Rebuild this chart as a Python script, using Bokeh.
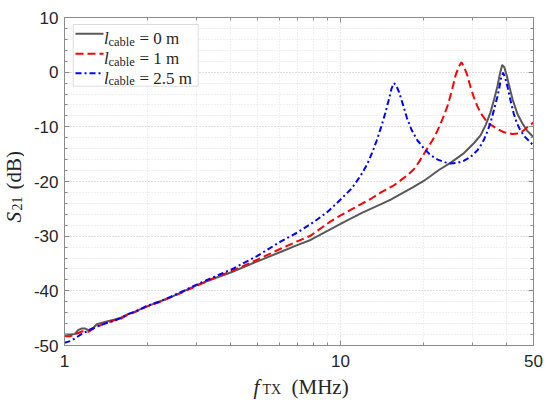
from math import pi
from bokeh.plotting import figure
from bokeh.layouts import row, column
from bokeh.models import (FixedTicker, LinearAxis, LogAxis, Range1d, Label,
                          BoxAnnotation, Arrow, CustomJSTickFormatter)
from bokeh.embed import file_html
from bokeh.resources import INLINE

# ---------------- data ----------------
x_ticks = [1, 10, 50]
x_minor = [2, 3, 4, 5, 6, 7, 8, 9, 20, 30, 40]
y_ticks = [-50, -40, -30, -20, -10, 0, 10]
y_minor = list(range(-50, 11, 2))

f_0m = [1.00, 1.05, 1.09, 1.12, 1.15, 1.19, 1.22, 1.27, 1.31, 1.40, 1.51, 1.60, 1.69, 1.80,
        2.00, 2.20, 2.42, 2.70, 3.00, 3.50, 4.02, 5.00, 6.06, 7.00, 7.79, 9.00, 10.57, 12.0,
        13.96, 15.2, 16.5, 18.4, 20.0, 21.2, 22.7, 25.0, 28.0, 30.4, 32.2, 33.6, 34.9, 36.0,
        37.0, 37.8, 38.5, 39.2, 40.0, 40.7, 42.0, 43.7, 45.5, 47.4, 50.0]
s21_0m = [-48.0, -48.0, -47.9, -47.2, -46.9, -46.9, -47.2, -46.8, -46.1, -45.7, -45.3, -44.9,
          -44.3, -43.8, -42.8, -42.0, -41.2, -40.1, -39.0, -37.7, -36.6, -34.6, -32.9, -31.6,
          -30.7, -29.0, -27.1, -25.7, -24.2, -23.3, -22.3, -21.0, -19.9, -19.0, -17.9, -16.6,
          -14.8, -13.0, -11.5, -9.6, -7.4, -5.0, -2.6, -0.3, 1.3, 0.9, -0.6, -2.2, -5.0, -7.6,
          -9.3, -10.7, -11.9]

f_1m = [1.00, 1.05, 1.10, 1.16, 1.22, 1.30, 1.40, 1.51, 1.60, 1.69, 1.80, 2.00, 2.20, 2.42,
        2.70, 3.00, 3.50, 4.02, 5.00, 6.06, 7.00, 7.79, 9.20, 10.0, 10.87, 12.0, 12.85, 14.0,
        15.6, 16.5, 17.4, 18.4, 19.2, 20.3, 21.5, 22.4, 23.4, 24.4, 25.3, 26.1, 26.8, 27.4,
        28.0, 28.8, 29.6, 30.4, 31.3, 32.2, 34.0, 37.0, 39.1, 41.9, 44.0, 46.0, 47.4, 50.0]
s21_1m = [-48.3, -48.3, -47.9, -47.4, -47.5, -46.6, -46.0, -45.4, -45.1, -44.4, -43.9, -42.8,
          -42.1, -41.2, -40.2, -39.1, -37.6, -36.4, -34.3, -32.3, -30.9, -29.9, -27.3, -26.2,
          -25.2, -24.0, -23.2, -22.0, -20.7, -19.8, -18.9, -17.8, -16.5, -14.5, -12.5, -10.8,
          -8.6, -6.2, -3.4, -0.6, 1.0, 1.8, 1.0, -0.6, -2.8, -4.6, -6.2, -7.5, -9.2, -10.4,
          -11.0, -11.3, -11.2, -10.7, -10.1, -9.2]

f_25m = [1.00, 1.05, 1.10, 1.16, 1.22, 1.30, 1.40, 1.51, 1.60, 1.69, 1.80, 2.00, 2.20, 2.42,
         2.70, 3.00, 3.50, 4.02, 5.00, 6.06, 7.00, 8.00, 9.00, 10.0, 11.0, 11.8, 12.5, 13.0,
         13.5, 14.0, 14.5, 15.0, 15.3, 15.6, 15.9, 16.3, 16.8, 17.4, 18.1, 19.0, 20.0, 21.2,
         22.5, 24.0, 25.0, 26.5, 28.0, 29.6, 31.3, 32.2, 33.1, 34.0, 34.9, 36.0, 37.0, 37.6,
         38.2, 38.8, 39.4, 40.1, 41.2, 42.4, 43.6, 44.9, 46.5, 48.2, 50.0]
s21_25m = [-49.5, -49.2, -48.6, -47.8, -47.3, -46.6, -46.0, -45.5, -45.0, -44.3, -43.8, -42.7,
           -42.0, -41.1, -40.0, -38.9, -37.4, -36.1, -33.6, -31.0, -29.3, -27.4, -25.5, -23.3,
           -21.2, -19.0, -16.8, -14.8, -12.6, -10.2, -7.6, -4.8, -3.0, -2.0, -2.4, -3.7, -5.8,
           -8.4, -10.6, -12.5, -13.9, -15.2, -16.0, -16.5, -16.7, -16.6, -16.2, -15.5, -14.3,
           -13.4, -12.3, -10.9, -9.3, -6.8, -4.5, -2.8, -1.0, -0.1, -0.9, -2.3, -5.0, -7.6,
           -9.4, -10.7, -11.8, -12.6, -13.4]

legend_values = ["= 0 m", "= 1 m", "= 2.5 m"]
colors = ["#595959", "#ff0000", "#0000ff"]
dashes = ["solid", "8 4", "6 3 2 3"]

# ---------------- layout constants ----------------
AX = "#8c8c8c"
TXT = "#262626"
SERIF = "Liberation Serif"
SANS = "Liberation Sans"
WY = 24          # width of the strip holding the y title
HP = 375         # height of the main plot
W_TOTAL, H_TOTAL = 548, 404
FRAME_L = 64     # page x of the plot frame's left edge

# ---------------- main figure ----------------
p = figure(width=W_TOTAL - WY, height=HP, x_axis_type="log",
           x_range=Range1d(1, 50), y_range=Range1d(-50, 10),
           output_backend="svg", toolbar_location=None,
           min_border_left=FRAME_L - WY, min_border_right=W_TOTAL - 533,
           min_border_top=17, min_border_bottom=HP - 345)
p.outline_line_color = AX
p.background_fill_color = "white"
p.border_fill_color = "white"

xt = FixedTicker(ticks=x_ticks, minor_ticks=x_minor)
yt = FixedTicker(ticks=y_ticks, minor_ticks=y_minor)


def style_axis(ax):
    ax.axis_line_color = AX
    ax.major_tick_line_color = AX
    ax.minor_tick_line_color = AX
    ax.major_tick_in = 5
    ax.major_tick_out = 0
    ax.minor_tick_in = 3
    ax.minor_tick_out = 0
    ax.major_label_text_font = SANS
    ax.major_label_text_font_size = "17px"
    ax.major_label_text_color = TXT


p.xaxis.ticker = xt
p.yaxis.ticker = yt
style_axis(p.xaxis[0])
style_axis(p.yaxis[0])
p.xaxis.formatter = CustomJSTickFormatter(code="return String(tick);")
p.yaxis.formatter = CustomJSTickFormatter(code="return String(tick);")
p.xaxis.major_label_standoff = 9
p.yaxis.major_label_standoff = 6

blank = "return '';"
top_ax = LogAxis(ticker=xt, formatter=CustomJSTickFormatter(code=blank))
right_ax = LinearAxis(ticker=yt, formatter=CustomJSTickFormatter(code=blank))
style_axis(top_ax)
style_axis(right_ax)
top_ax.major_label_standoff = 0
right_ax.major_label_standoff = 0
p.add_layout(top_ax, "above")
p.add_layout(right_ax, "right")

for g in (p.xgrid[0], p.ygrid[0]):
    g.grid_line_color = "#cfcfcf"
    g.grid_line_dash = "1 2"
    g.grid_line_width = 1
    g.minor_grid_line_color = "#e0e0e0"
    g.minor_grid_line_dash = "1 2"
    g.minor_grid_line_width = 1
p.xgrid.ticker = xt
p.ygrid.ticker = yt

# ---------------- curves ----------------
series = [(f_0m, s21_0m), (f_1m, s21_1m), (f_25m, s21_25m)]
for (fx, sy), c, d in zip(series, colors, dashes):
    p.line(fx, sy, line_color=c, line_width=2, line_dash=d)

# ---------------- legend (screen units relative to frame) ----------------
p.add_layout(BoxAnnotation(left=8.7, right=133.7, top=321, bottom=259.3,
                           left_units="screen", right_units="screen",
                           top_units="screen", bottom_units="screen",
                           fill_color="white", fill_alpha=1.0,
                           line_color=AX, line_width=1))
row_y = [311.7, 291.7, 272.3]
for ry, c, d, val in zip(row_y, colors, dashes, legend_values):
    p.add_layout(Arrow(end=None, x_start=11, y_start=ry, x_end=39, y_end=ry,
                       start_units="screen", end_units="screen",
                       line_color=c, line_width=2, line_dash=d))
    p.add_layout(Label(x=39.5, y=ry - 5, x_units="screen", y_units="screen", text="l",
                       text_font=SERIF, text_font_style="italic", text_font_size="17px",
                       text_color=TXT, text_baseline="alphabetic"))
    p.add_layout(Label(x=44, y=ry - 8, x_units="screen", y_units="screen", text="cable",
                       text_font=SERIF, text_font_size="12.5px",
                       text_color=TXT, text_baseline="alphabetic"))
    p.add_layout(Label(x=75, y=ry - 5, x_units="screen", y_units="screen", text=val,
                       text_font=SERIF, text_font_size="17px",
                       text_color=TXT, text_baseline="alphabetic"))


def bare(width, height):
    f = figure(width=width, height=height, x_axis_type=None, y_axis_type=None,
               x_range=Range1d(0, 1), y_range=Range1d(0, 1),
               output_backend="svg", toolbar_location=None,
               min_border_left=0, min_border_right=0, min_border_top=0, min_border_bottom=0)
    f.outline_line_color = None
    f.background_fill_color = "white"
    f.border_fill_color = "white"
    return f


# ---------------- x title strip (its frame is aligned with the plot frame) ----------------
fx_strip = bare(W_TOTAL - WY, H_TOTAL - HP)
xb = (H_TOTAL - 386)   # baseline near page y = 386
fx_strip.add_layout(Label(x=253 - FRAME_L, y=xb, x_units="screen", y_units="screen", text="f",
                          text_font=SERIF, text_font_style="italic", text_font_size="21px",
                          text_color=TXT, text_baseline="alphabetic"))
fx_strip.add_layout(Label(x=262 - FRAME_L, y=xb - 3, x_units="screen", y_units="screen", text="TX",
                          text_font=SERIF, text_font_size="14px",
                          text_color=TXT, text_baseline="alphabetic"))
fx_strip.add_layout(Label(x=291 - FRAME_L, y=xb, x_units="screen", y_units="screen", text="(MHz)",
                          text_font=SERIF, text_font_size="21px",
                          text_color=TXT, text_baseline="alphabetic"))

# ---------------- y title strip ----------------
fy_strip = bare(WY, H_TOTAL)
fy_strip.add_layout(Label(x=13, y=H_TOTAL - 222, x_units="screen", y_units="screen", text="S",
                          angle=pi / 2, text_font=SERIF, text_font_style="italic",
                          text_font_size="21px", text_color=TXT, text_baseline="alphabetic"))
fy_strip.add_layout(Label(x=16, y=H_TOTAL - 210, x_units="screen", y_units="screen", text="21",
                          angle=pi / 2, text_font=SERIF, text_font_size="14px",
                          text_color=TXT, text_baseline="alphabetic"))
fy_strip.add_layout(Label(x=13, y=H_TOTAL - 189, x_units="screen", y_units="screen", text="(dB)",
                          angle=pi / 2, text_font=SERIF, text_font_size="21px",
                          text_color=TXT, text_baseline="alphabetic"))

page = row(fy_strip, column(p, fx_strip))
open("out.html", "w").write(file_html(page, INLINE))
